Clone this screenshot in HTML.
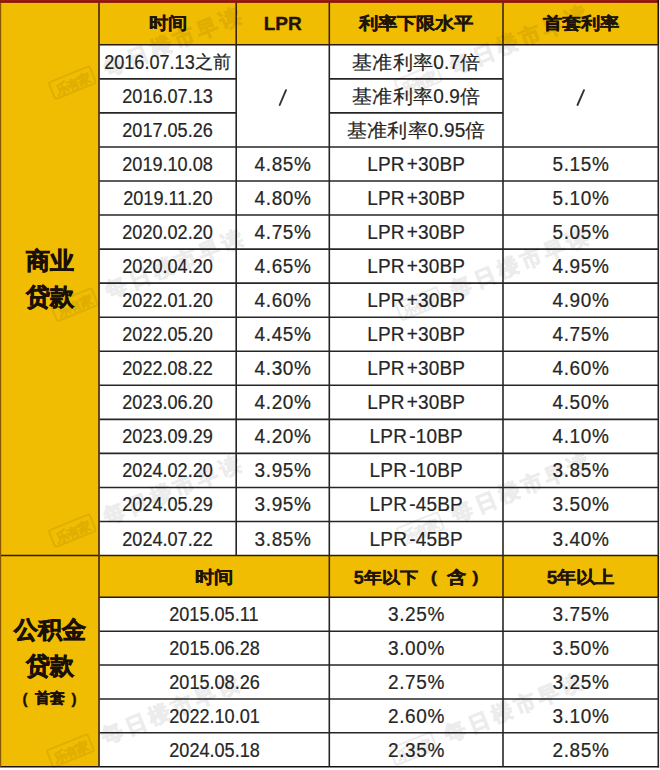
<!DOCTYPE html>
<html><head><meta charset="utf-8">
<style>
html,body{margin:0;padding:0;background:#fff;}
body{width:660px;height:770px;position:relative;overflow:hidden;font-family:"Liberation Sans",sans-serif;}
svg{position:absolute;left:0;top:0;}
.c{position:absolute;display:flex;align-items:center;justify-content:center;white-space:nowrap;text-align:center;}
.h,.h2{font-weight:bold;font-size:19px;color:#1e1408;-webkit-text-stroke:0.35px #1e1408;}
.b{font-size:19px;color:#262626;-webkit-text-stroke:0.2px #262626;}
.h .cj,.h2 .cj{display:inline-block;transform:scaleY(0.88);}
.h{padding-top:1.4px;box-sizing:border-box;}
.h2{padding-top:2.6px;box-sizing:border-box;}
.b{padding-top:0.2px;box-sizing:border-box;transform:scaleY(1.1);}
.dt{font-size:19px;}
.dt span.s{display:inline-block;transform:scaleX(0.953);}
.dt .cj{font-size:19px;display:inline-block;transform:scaleY(0.86);}
.pc{letter-spacing:0.6px;padding-left:0.6px;}
.lo{letter-spacing:0.15px;padding-left:0.15px;}
.op{margin-left:2.2px;}
.lo .cj{font-size:19.6px;letter-spacing:0.3px;display:inline-block;transform:scaleY(0.86);}
.L{font-weight:bold;font-size:24px;line-height:30px;color:#1a1008;-webkit-text-stroke:0.7px #1a1008;}
.sm{font-weight:bold;font-size:15px;color:#1a1008;-webkit-text-stroke:0.4px #1a1008;}
.wm{position:absolute;width:440px;height:40px;transform:rotate(-22deg);transform-origin:220px 20px;display:flex;align-items:center;justify-content:flex-start;padding-left:83px;box-sizing:border-box;color:#000;opacity:0.07;-webkit-text-stroke:0.9px #000;font-weight:bold;white-space:nowrap;pointer-events:none;}
.wm .lg{font-size:13px;letter-spacing:-1px;display:inline-block;width:46px;height:20px;line-height:20px;text-align:center;margin-right:12px;border:2px solid #000;border-radius:3px;box-sizing:border-box;-webkit-text-stroke:0.5px #000;}
.wm .wt{font-size:21px;letter-spacing:4px;}
.pp{display:inline-block;margin:0 7px;}
</style></head><body>
<svg width="660" height="770" viewBox="0 0 660 770"><rect x="0" y="0" width="659" height="767" fill="#fff"/><rect x="0" y="2" width="99.0" height="764.7" fill="#F1BD02"/><rect x="99.0" y="2" width="559.3" height="42.8" fill="#F1BD02"/><rect x="99.0" y="555.5" width="559.3" height="41.799999999999955" fill="#F1BD02"/><defs><linearGradient id="rg" x1="0" y1="0" x2="0" y2="1"><stop offset="0" stop-color="#A8201C"/><stop offset="1" stop-color="#720606"/></linearGradient></defs><rect x="0" y="0" width="659" height="2.8" fill="url(#rg)"/><line x1="99.0" y1="44.8" x2="658.3" y2="44.8" stroke="#2a1a06" stroke-width="1.6"/><line x1="99.0" y1="78.85" x2="236.2" y2="78.85" stroke="#262626" stroke-width="1.6"/><line x1="329.3" y1="78.85" x2="503.0" y2="78.85" stroke="#262626" stroke-width="1.6"/><line x1="99.0" y1="112.89999999999999" x2="236.2" y2="112.89999999999999" stroke="#262626" stroke-width="1.6"/><line x1="329.3" y1="112.89999999999999" x2="503.0" y2="112.89999999999999" stroke="#262626" stroke-width="1.6"/><line x1="99.0" y1="146.95" x2="658.3" y2="146.95" stroke="#262626" stroke-width="1.6"/><line x1="99.0" y1="181.0" x2="658.3" y2="181.0" stroke="#262626" stroke-width="1.6"/><line x1="99.0" y1="215.05" x2="658.3" y2="215.05" stroke="#262626" stroke-width="1.6"/><line x1="99.0" y1="249.09999999999997" x2="658.3" y2="249.09999999999997" stroke="#262626" stroke-width="1.6"/><line x1="99.0" y1="283.15" x2="658.3" y2="283.15" stroke="#262626" stroke-width="1.6"/><line x1="99.0" y1="317.2" x2="658.3" y2="317.2" stroke="#262626" stroke-width="1.6"/><line x1="99.0" y1="351.25" x2="658.3" y2="351.25" stroke="#262626" stroke-width="1.6"/><line x1="99.0" y1="385.3" x2="658.3" y2="385.3" stroke="#262626" stroke-width="1.6"/><line x1="99.0" y1="419.34999999999997" x2="658.3" y2="419.34999999999997" stroke="#262626" stroke-width="1.6"/><line x1="99.0" y1="453.4" x2="658.3" y2="453.4" stroke="#262626" stroke-width="1.6"/><line x1="99.0" y1="487.45" x2="658.3" y2="487.45" stroke="#262626" stroke-width="1.6"/><line x1="99.0" y1="521.4999999999999" x2="658.3" y2="521.4999999999999" stroke="#262626" stroke-width="1.6"/><line x1="0" y1="555.5" x2="658.3" y2="555.5" stroke="#2e1d08" stroke-width="1.6"/><line x1="99.0" y1="597.3" x2="658.3" y2="597.3" stroke="#2a1a06" stroke-width="1.6"/><line x1="99.0" y1="631.18" x2="658.3" y2="631.18" stroke="#262626" stroke-width="1.6"/><line x1="99.0" y1="665.06" x2="658.3" y2="665.06" stroke="#262626" stroke-width="1.6"/><line x1="99.0" y1="698.94" x2="658.3" y2="698.94" stroke="#262626" stroke-width="1.6"/><line x1="99.0" y1="732.82" x2="658.3" y2="732.82" stroke="#262626" stroke-width="1.6"/><line x1="0" y1="766.7" x2="99.0" y2="766.7" stroke="#201005" stroke-width="1.6"/><line x1="99.0" y1="766.7" x2="659.0999999999999" y2="766.7" stroke="#111" stroke-width="1.6"/><line x1="236.2" y1="44.8" x2="236.2" y2="555.5" stroke="#262626" stroke-width="1.6"/><line x1="329.3" y1="44.8" x2="329.3" y2="555.5" stroke="#262626" stroke-width="1.6"/><line x1="329.3" y1="597.3" x2="329.3" y2="766.7" stroke="#262626" stroke-width="1.6"/><line x1="503.0" y1="44.8" x2="503.0" y2="555.5" stroke="#262626" stroke-width="1.6"/><line x1="503.0" y1="597.3" x2="503.0" y2="766.7" stroke="#262626" stroke-width="1.6"/><line x1="658.3" y1="44.8" x2="658.3" y2="555.5" stroke="#262626" stroke-width="1.6"/><line x1="658.3" y1="597.3" x2="658.3" y2="767.5" stroke="#262626" stroke-width="1.6"/><line x1="236.2" y1="2.8" x2="236.2" y2="44.8" stroke="#3e2608" stroke-width="1.6"/><line x1="329.3" y1="2.8" x2="329.3" y2="44.8" stroke="#3e2608" stroke-width="1.6"/><line x1="503.0" y1="2.8" x2="503.0" y2="44.8" stroke="#3e2608" stroke-width="1.6"/><line x1="329.3" y1="555.5" x2="329.3" y2="597.3" stroke="#3e2608" stroke-width="1.6"/><line x1="503.0" y1="555.5" x2="503.0" y2="597.3" stroke="#3e2608" stroke-width="1.6"/><line x1="658.3" y1="0" x2="658.3" y2="44.8" stroke="#201005" stroke-width="1.6"/><line x1="658.3" y1="555.5" x2="658.3" y2="597.3" stroke="#201005" stroke-width="1.6"/><line x1="0.6" y1="2.8" x2="0.6" y2="766.7" stroke="#8a5800" stroke-width="1.2"/><line x1="99.0" y1="2.8" x2="99.0" y2="766.7" stroke="#553510" stroke-width="1.8"/><line x1="279.7" y1="105" x2="286.0" y2="90.2" stroke="#333" stroke-width="1.9" stroke-linecap="round"/><line x1="577.5" y1="105" x2="584.0" y2="90.2" stroke="#333" stroke-width="1.9" stroke-linecap="round"/></svg>
<div class="c h" style="left:99.0px;top:2.0px;width:137.2px;height:42.8px"><span class="cj">时间</span></div>
<div class="c h" style="left:236.2px;top:2.0px;width:93.1px;height:42.8px">LPR</div>
<div class="c h" style="left:329.3px;top:2.0px;width:173.7px;height:42.8px"><span class="cj">利率下限水平</span></div>
<div class="c h" style="left:503.0px;top:2.0px;width:155.3px;height:42.8px"><span class="cj">首套利率</span></div>
<div class="c b dt" style="left:99.0px;top:44.8px;width:137.2px;height:34.0px"><span class="s">2016.07.13<span class="cj">之前</span></span></div>
<div class="c b lo" style="left:329.3px;top:44.8px;width:173.7px;height:34.0px"><span class="cj">基准利率</span>0.7<span class="cj">倍</span></div>
<div class="c b dt" style="left:99.0px;top:78.8px;width:137.2px;height:34.0px"><span class="s">2016.07.13</span></div>
<div class="c b lo" style="left:329.3px;top:78.8px;width:173.7px;height:34.0px"><span class="cj">基准利率</span>0.9<span class="cj">倍</span></div>
<div class="c b dt" style="left:99.0px;top:112.9px;width:137.2px;height:34.0px"><span class="s">2017.05.26</span></div>
<div class="c b lo" style="left:329.3px;top:112.9px;width:173.7px;height:34.0px"><span class="cj">基准利率</span>0.95<span class="cj">倍</span></div>
<div class="c b dt" style="left:99.0px;top:146.9px;width:137.2px;height:34.1px"><span class="s">2019.10.08</span></div>
<div class="c b pc" style="left:236.2px;top:146.9px;width:93.1px;height:34.1px">4.85%</div>
<div class="c b lo" style="left:329.3px;top:146.9px;width:173.7px;height:34.1px">LPR<span class="op">+</span>30BP</div>
<div class="c b pc" style="left:503.0px;top:146.9px;width:155.3px;height:34.1px">5.15%</div>
<div class="c b dt" style="left:99.0px;top:181.0px;width:137.2px;height:34.1px"><span class="s">2019.11.20</span></div>
<div class="c b pc" style="left:236.2px;top:181.0px;width:93.1px;height:34.1px">4.80%</div>
<div class="c b lo" style="left:329.3px;top:181.0px;width:173.7px;height:34.1px">LPR<span class="op">+</span>30BP</div>
<div class="c b pc" style="left:503.0px;top:181.0px;width:155.3px;height:34.1px">5.10%</div>
<div class="c b dt" style="left:99.0px;top:215.1px;width:137.2px;height:34.1px"><span class="s">2020.02.20</span></div>
<div class="c b pc" style="left:236.2px;top:215.1px;width:93.1px;height:34.1px">4.75%</div>
<div class="c b lo" style="left:329.3px;top:215.1px;width:173.7px;height:34.1px">LPR<span class="op">+</span>30BP</div>
<div class="c b pc" style="left:503.0px;top:215.1px;width:155.3px;height:34.1px">5.05%</div>
<div class="c b dt" style="left:99.0px;top:249.1px;width:137.2px;height:34.1px"><span class="s">2020.04.20</span></div>
<div class="c b pc" style="left:236.2px;top:249.1px;width:93.1px;height:34.1px">4.65%</div>
<div class="c b lo" style="left:329.3px;top:249.1px;width:173.7px;height:34.1px">LPR<span class="op">+</span>30BP</div>
<div class="c b pc" style="left:503.0px;top:249.1px;width:155.3px;height:34.1px">4.95%</div>
<div class="c b dt" style="left:99.0px;top:283.1px;width:137.2px;height:34.1px"><span class="s">2022.01.20</span></div>
<div class="c b pc" style="left:236.2px;top:283.1px;width:93.1px;height:34.1px">4.60%</div>
<div class="c b lo" style="left:329.3px;top:283.1px;width:173.7px;height:34.1px">LPR<span class="op">+</span>30BP</div>
<div class="c b pc" style="left:503.0px;top:283.1px;width:155.3px;height:34.1px">4.90%</div>
<div class="c b dt" style="left:99.0px;top:317.2px;width:137.2px;height:34.1px"><span class="s">2022.05.20</span></div>
<div class="c b pc" style="left:236.2px;top:317.2px;width:93.1px;height:34.1px">4.45%</div>
<div class="c b lo" style="left:329.3px;top:317.2px;width:173.7px;height:34.1px">LPR<span class="op">+</span>30BP</div>
<div class="c b pc" style="left:503.0px;top:317.2px;width:155.3px;height:34.1px">4.75%</div>
<div class="c b dt" style="left:99.0px;top:351.2px;width:137.2px;height:34.1px"><span class="s">2022.08.22</span></div>
<div class="c b pc" style="left:236.2px;top:351.2px;width:93.1px;height:34.1px">4.30%</div>
<div class="c b lo" style="left:329.3px;top:351.2px;width:173.7px;height:34.1px">LPR<span class="op">+</span>30BP</div>
<div class="c b pc" style="left:503.0px;top:351.2px;width:155.3px;height:34.1px">4.60%</div>
<div class="c b dt" style="left:99.0px;top:385.3px;width:137.2px;height:34.1px"><span class="s">2023.06.20</span></div>
<div class="c b pc" style="left:236.2px;top:385.3px;width:93.1px;height:34.1px">4.20%</div>
<div class="c b lo" style="left:329.3px;top:385.3px;width:173.7px;height:34.1px">LPR<span class="op">+</span>30BP</div>
<div class="c b pc" style="left:503.0px;top:385.3px;width:155.3px;height:34.1px">4.50%</div>
<div class="c b dt" style="left:99.0px;top:419.3px;width:137.2px;height:34.1px"><span class="s">2023.09.29</span></div>
<div class="c b pc" style="left:236.2px;top:419.3px;width:93.1px;height:34.1px">4.20%</div>
<div class="c b lo" style="left:329.3px;top:419.3px;width:173.7px;height:34.1px">LPR<span class="op">-</span>10BP</div>
<div class="c b pc" style="left:503.0px;top:419.3px;width:155.3px;height:34.1px">4.10%</div>
<div class="c b dt" style="left:99.0px;top:453.4px;width:137.2px;height:34.1px"><span class="s">2024.02.20</span></div>
<div class="c b pc" style="left:236.2px;top:453.4px;width:93.1px;height:34.1px">3.95%</div>
<div class="c b lo" style="left:329.3px;top:453.4px;width:173.7px;height:34.1px">LPR<span class="op">-</span>10BP</div>
<div class="c b pc" style="left:503.0px;top:453.4px;width:155.3px;height:34.1px">3.85%</div>
<div class="c b dt" style="left:99.0px;top:487.4px;width:137.2px;height:34.1px"><span class="s">2024.05.29</span></div>
<div class="c b pc" style="left:236.2px;top:487.4px;width:93.1px;height:34.1px">3.95%</div>
<div class="c b lo" style="left:329.3px;top:487.4px;width:173.7px;height:34.1px">LPR<span class="op">-</span>45BP</div>
<div class="c b pc" style="left:503.0px;top:487.4px;width:155.3px;height:34.1px">3.50%</div>
<div class="c b dt" style="left:99.0px;top:521.5px;width:137.2px;height:34.0px"><span class="s">2024.07.22</span></div>
<div class="c b pc" style="left:236.2px;top:521.5px;width:93.1px;height:34.0px">3.85%</div>
<div class="c b lo" style="left:329.3px;top:521.5px;width:173.7px;height:34.0px">LPR<span class="op">-</span>45BP</div>
<div class="c b pc" style="left:503.0px;top:521.5px;width:155.3px;height:34.0px">3.40%</div>
<div class="c h2" style="left:99.0px;top:555.5px;width:230.3px;height:41.8px"><span class="cj">时间</span></div>
<div class="c h2" style="left:329.3px;top:555.5px;width:173.7px;height:41.8px"><span style="font-size:18px">5<span class="cj">年以下</span></span><span class="cj" style="margin-left:13px">(</span><span class="cj" style="margin:0 6px 0 10px;font-size:19px">含</span><span class="cj">)</span></div>
<div class="c h2" style="left:503.0px;top:555.5px;width:155.3px;height:41.8px">5<span class="cj">年以上</span></div>
<div class="c b dt" style="left:99.0px;top:597.3px;width:230.3px;height:33.9px"><span class="s">2015.05.11</span></div>
<div class="c b pc" style="left:329.3px;top:597.3px;width:173.7px;height:33.9px">3.25%</div>
<div class="c b pc" style="left:503.0px;top:597.3px;width:155.3px;height:33.9px">3.75%</div>
<div class="c b dt" style="left:99.0px;top:631.2px;width:230.3px;height:33.9px"><span class="s">2015.06.28</span></div>
<div class="c b pc" style="left:329.3px;top:631.2px;width:173.7px;height:33.9px">3.00%</div>
<div class="c b pc" style="left:503.0px;top:631.2px;width:155.3px;height:33.9px">3.50%</div>
<div class="c b dt" style="left:99.0px;top:665.1px;width:230.3px;height:33.9px"><span class="s">2015.08.26</span></div>
<div class="c b pc" style="left:329.3px;top:665.1px;width:173.7px;height:33.9px">2.75%</div>
<div class="c b pc" style="left:503.0px;top:665.1px;width:155.3px;height:33.9px">3.25%</div>
<div class="c b dt" style="left:99.0px;top:698.9px;width:230.3px;height:33.9px"><span class="s">2022.10.01</span></div>
<div class="c b pc" style="left:329.3px;top:698.9px;width:173.7px;height:33.9px">2.60%</div>
<div class="c b pc" style="left:503.0px;top:698.9px;width:155.3px;height:33.9px">3.10%</div>
<div class="c b dt" style="left:99.0px;top:732.8px;width:230.3px;height:33.9px"><span class="s">2024.05.18</span></div>
<div class="c b pc" style="left:329.3px;top:732.8px;width:173.7px;height:33.9px">2.35%</div>
<div class="c b pc" style="left:503.0px;top:732.8px;width:155.3px;height:33.9px">2.85%</div>
<div class="c L" style="left:0px;top:246.0px;width:99px;height:30px">商业</div>
<div class="c L" style="left:0px;top:282.0px;width:99px;height:30px">贷款</div>
<div class="c L" style="left:0px;top:615.0px;width:99px;height:30px">公积金</div>
<div class="c L" style="left:0px;top:650.5px;width:99px;height:30px">贷款</div>
<div class="c sm" style="left:0px;top:686.0px;width:99px;height:24px"><span class="pp">(</span>首套<span class="pp">)</span></div>
<div class="wm" style="left:-42px;top:20px"><span class="lg">乐有家</span><span class="wt">每日楼市早读</span></div>
<div class="wm" style="left:304px;top:18px"><span class="lg">乐有家</span><span class="wt">每日楼市早读</span></div>
<div class="wm" style="left:-40.30000000000001px;top:241.7px"><span class="lg">乐有家</span><span class="wt">每日楼市早读</span></div>
<div class="wm" style="left:304.5px;top:240.7px"><span class="lg">乐有家</span><span class="wt">每日楼市早读</span></div>
<div class="wm" style="left:-42.5px;top:467.5px"><span class="lg">乐有家</span><span class="wt">每日楼市早读</span></div>
<div class="wm" style="left:306.29999999999995px;top:465.5px"><span class="lg">乐有家</span><span class="wt">每日楼市早读</span></div>
<div class="wm" style="left:-43.599999999999994px;top:688px"><span class="lg">乐有家</span><span class="wt">每日楼市早读</span></div>
<div class="wm" style="left:299px;top:686px"><span class="lg">乐有家</span><span class="wt">每日楼市早读</span></div>
</body></html>
